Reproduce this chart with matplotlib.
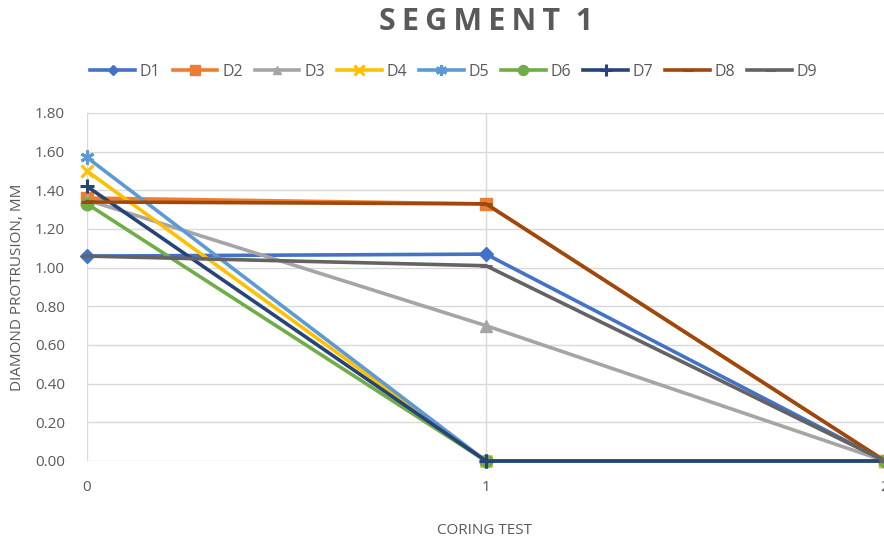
import matplotlib.pyplot as plt

plt.rcParams['font.family'] = ['Open Sans', 'DejaVu Sans']

# data
coring_test = [0, 1, 2]
series_names = ["D1", "D2", "D3", "D4", "D5", "D6", "D7", "D8", "D9"]
d1 = [1.06, 1.07, 0.00]
d2 = [1.36, 1.33, 0.00]
d3 = [1.35, 0.70, 0.00]
d4 = [1.50, 0.00, 0.00]
d5 = [1.57, 0.00, 0.00]
d6 = [1.33, 0.00, 0.00]
d7 = [1.42, 0.00, 0.00]
d8 = [1.34, 1.33, 0.00]
d9 = [1.06, 1.01, 0.00]
y_ticks = [0.0, 0.2, 0.4, 0.6, 0.8, 1.0, 1.2, 1.4, 1.6, 1.8]

all_series = [d1, d2, d3, d4, d5, d6, d7, d8, d9]
colors = ["#4472C4", "#ED7D31", "#A5A5A5", "#FFC000", "#5B9BD5",
          "#70AD47", "#264478", "#9E480E", "#636363"]
markers = ["D", "s", "^", "x", (6, 2, 0), "o", "+", "_", "_"]
msizes = [7, 9, 8, 9, 10, 9, 10, 9, 9]

txt = "#595959"

fig = plt.figure(figsize=(8.84, 5.40), dpi=100)
ax = fig.add_axes([87 / 884, 1 - 461 / 540, (885 - 87) / 884, (461 - 113) / 540])

for name, vals, c, m, ms in zip(series_names, all_series, colors, markers, msizes):
    ax.plot(coring_test, vals, color=c, lw=2.6, marker=m, markersize=ms,
            markeredgewidth=2.2 if m in ("x", "+", "_", (6, 2, 0)) else 1,
            markerfacecolor=c, markeredgecolor=c, label=name, clip_on=False)

ax.set_xlim(0, 2)
ax.set_ylim(0, 1.8)
ax.set_yticks(y_ticks)
ax.set_yticklabels([f"{v:.2f}" for v in y_ticks])
ax.set_xticks(coring_test)
ax.grid(True, color="#D9D9D9", lw=1)
ax.set_axisbelow(True)
for s in ax.spines.values():
    s.set_visible(False)
ax.tick_params(length=0, labelsize=11, colors=txt, pad=14)
ax.tick_params(axis='y', pad=16)

fig.text(486 / 884, 1 - 22 / 540, "\u2009".join("SEGMENT") + "  1",
         ha="center", va="center", fontsize=22, fontweight="bold", color=txt)
fig.text(18 / 884, 1 - 287 / 540, "DIAMOND PROTRUSION, MM", rotation=90,
         ha="center", va="center", fontsize=11, color=txt)
fig.text(484 / 884, 1 - 530 / 540, "CORING TEST", ha="center", va="center",
         fontsize=11, color=txt)

leg = fig.legend(loc="center", bbox_to_anchor=(454 / 884, 1 - 72 / 540), ncol=9,
                 frameon=False, fontsize=11.5, labelcolor=txt, handlelength=2.8,
                 columnspacing=0.75, handletextpad=0.3)
for h in leg.legend_handles:
    h.set_markersize(h.get_markersize() * 0.8)

fig.savefig("out.png", dpi=100)
